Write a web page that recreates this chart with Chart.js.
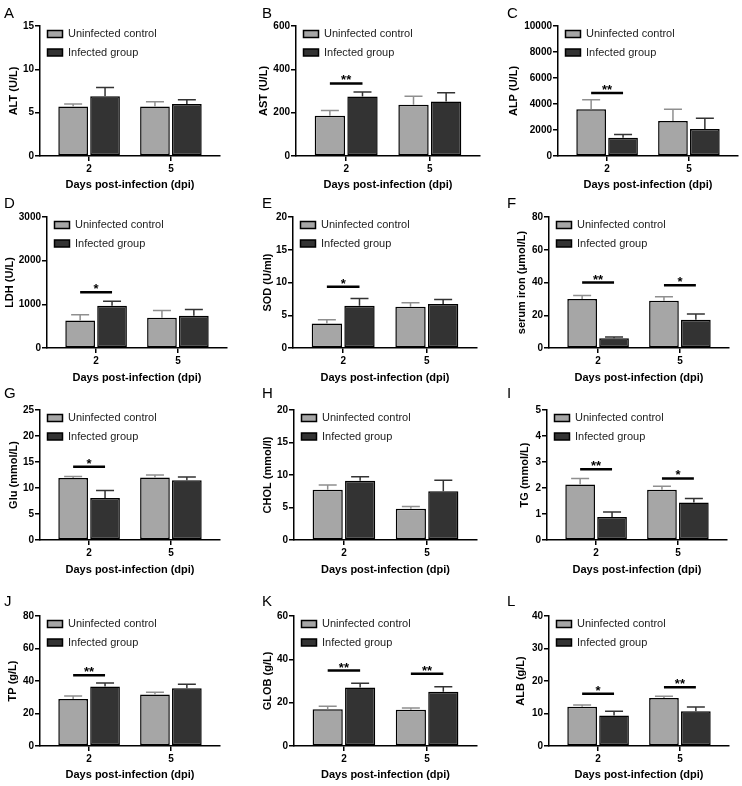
<!DOCTYPE html>
<html>
<head>
<meta charset="utf-8">
<script src="https://cdn.jsdelivr.net/npm/chart.js@4.4.1/dist/chart.umd.min.js"></script>
<style>
  html, body { margin: 0; padding: 0; background: #fff; }
  #fig { position: relative; width: 742px; height: 786px; overflow: hidden; font-family: "Liberation Sans", Arial, sans-serif; }
  .panel { position: absolute; }
  .tag { position: absolute; font-size: 15px; line-height: 15px; color: #000; }
</style>
</head>
<body>
<div id="fig"></div>
<script>
"use strict";

var days = ["2", "5"];
var groups = ["Uninfected control", "Infected group"];

// mean and SD per day [2, 5]
var altCtrl = [5.7, 5.7], altCtrlSd = [0.3, 0.55], altInf = [6.9, 6.0], altInfSd = [1.0, 0.5];
var astCtrl = [186, 236], astCtrlSd = [24, 40], astInf = [275, 252], astInfSd = [20, 40];
var alpCtrl = [3600, 2700], alpCtrlSd = [720, 900], alpInf = [1400, 2080], alpInfSd = [250, 820];
var ldhCtrl = [630, 690], ldhCtrlSd = [130, 170], ldhInf = [965, 737], ldhInfSd = [107, 146];
var sodCtrl = [3.75, 6.3], sodCtrlSd = [0.55, 0.6], sodInf = [6.45, 6.7], sodInfSd = [1.1, 0.7];
var ironCtrl = [29.9, 28.8], ironCtrlSd = [2.2, 2.5], ironInf = [5.9, 17.2], ironInfSd = [0.8, 3.5];
var gluCtrl = [11.9, 12.0], gluCtrlSd = [0.3, 0.5], gluInf = [8.1, 11.5], gluInfSd = [1.4, 0.6];
var cholCtrl = [7.75, 4.8], cholCtrlSd = [0.7, 0.35], cholInf = [9.1, 7.5], cholInfSd = [0.65, 1.7];
var tgCtrl = [2.13, 1.93], tgCtrlSd = [0.24, 0.14], tgInf = [0.88, 1.44], tgInfSd = [0.2, 0.16];
var tpCtrl = [29.0, 31.7], tpCtrlSd = [1.8, 1.4], tpInf = [36.6, 35.6], tpInfSd = [2.1, 2.4];
var globCtrl = [17.0, 16.7], globCtrlSd = [1.3, 0.8], globInf = [27.0, 25.0], globInfSd = [2.0, 2.3];
var albCtrl = [12.1, 14.8], albCtrlSd = [0.5, 0.5], albInf = [9.4, 10.7], albInfSd = [1.3, 1.3];

// significance marks per day and the level of their bracket
var astSig = ["**", ""], astSigAt = [335, 0];
var alpSig = ["**", ""], alpSigAt = [4850, 0];
var ldhSig = ["*", ""], ldhSigAt = [1275, 0];
var sodSig = ["*", ""], sodSigAt = [9.35, 0];
var ironSig = ["**", "*"], ironSigAt = [40, 38.3];
var gluSig = ["*", ""], gluSigAt = [14.1, 0];
var tgSig = ["**", "*"], tgSigAt = [2.72, 2.37];
var tpSig = ["**", ""], tpSigAt = [43.6, 0];
var globSig = ["**", "**"], globSigAt = [34.8, 33.3];
var albSig = ["*", "**"], albSigAt = [16.1, 18.1];
var noSig = ["", ""], noSigAt = [0, 0];

// grid of the figure
var colLeft = [0, 245, 490], colWidth = [245, 245, 252];
var rowTop = [4, 198, 390, 594], rowHeight = [192, 190, 190, 192];
var plotTop = [26, 217, 410, 616], plotZero = [156, 348, 540, 746], xTitleY = [185, 378, 570, 775];
var tagLeft = [4, 262, 507], tagTop = [7, 197, 387, 595];

var FONT = "'Liberation Sans', Arial, sans-serif";
var CTRL_COLOR = "#a6a6a6", INF_COLOR = "#333333";

var panels = [
  { tag: "A", col: 0, row: 0, left: 40, right: 220, yTitleX: 14, title: "ALT (U/L)", max: 15, step: 5,
    ctrl: altCtrl, ctrlSd: altCtrlSd, inf: altInf, infSd: altInfSd, sig: noSig, sigAt: noSigAt },
  { tag: "B", col: 1, row: 0, left: 296, right: 480, yTitleX: 264, title: "AST (U/L)", max: 600, step: 200,
    ctrl: astCtrl, ctrlSd: astCtrlSd, inf: astInf, infSd: astInfSd, sig: astSig, sigAt: astSigAt },
  { tag: "C", col: 2, row: 0, left: 558, right: 738, yTitleX: 514, title: "ALP (U/L)", max: 10000, step: 2000,
    ctrl: alpCtrl, ctrlSd: alpCtrlSd, inf: alpInf, infSd: alpInfSd, sig: alpSig, sigAt: alpSigAt },
  { tag: "D", col: 0, row: 1, left: 47, right: 227, yTitleX: 10, title: "LDH (U/L)", max: 3000, step: 1000,
    ctrl: ldhCtrl, ctrlSd: ldhCtrlSd, inf: ldhInf, infSd: ldhInfSd, sig: ldhSig, sigAt: ldhSigAt },
  { tag: "E", col: 1, row: 1, left: 293, right: 477, yTitleX: 268, title: "SOD (U/ml)", max: 20, step: 5,
    ctrl: sodCtrl, ctrlSd: sodCtrlSd, inf: sodInf, infSd: sodInfSd, sig: sodSig, sigAt: sodSigAt },
  { tag: "F", col: 2, row: 1, left: 549, right: 729, yTitleX: 522, title: "serum iron (\u03bcmol/L)", max: 80, step: 20,
    ctrl: ironCtrl, ctrlSd: ironCtrlSd, inf: ironInf, infSd: ironInfSd, sig: ironSig, sigAt: ironSigAt },
  { tag: "G", col: 0, row: 2, left: 40, right: 220, yTitleX: 14, title: "Glu (mmol/L)", max: 25, step: 5,
    ctrl: gluCtrl, ctrlSd: gluCtrlSd, inf: gluInf, infSd: gluInfSd, sig: gluSig, sigAt: gluSigAt },
  { tag: "H", col: 1, row: 2, left: 294, right: 477, yTitleX: 268, title: "CHOL (mmol/l)", max: 20, step: 5,
    ctrl: cholCtrl, ctrlSd: cholCtrlSd, inf: cholInf, infSd: cholInfSd, sig: noSig, sigAt: noSigAt },
  { tag: "I", col: 2, row: 2, left: 547, right: 727, yTitleX: 525, title: "TG (mmol/L)", max: 5, step: 1,
    ctrl: tgCtrl, ctrlSd: tgCtrlSd, inf: tgInf, infSd: tgInfSd, sig: tgSig, sigAt: tgSigAt },
  { tag: "J", col: 0, row: 3, left: 40, right: 220, yTitleX: 13, title: "TP (g/L)", max: 80, step: 20,
    ctrl: tpCtrl, ctrlSd: tpCtrlSd, inf: tpInf, infSd: tpInfSd, sig: tpSig, sigAt: tpSigAt },
  { tag: "K", col: 1, row: 3, left: 294, right: 477, yTitleX: 268, title: "GLOB (g/L)", max: 60, step: 20,
    ctrl: globCtrl, ctrlSd: globCtrlSd, inf: globInf, infSd: globInfSd, sig: globSig, sigAt: globSigAt },
  { tag: "L", col: 2, row: 3, left: 549, right: 729, yTitleX: 521, title: "ALB (g/L)", max: 40, step: 10,
    ctrl: albCtrl, ctrlSd: albCtrlSd, inf: albInf, infSd: albInfSd, sig: albSig, sigAt: albSigAt }
];

function toPoints(values) {
  return values.map(function(v, i) {
    return { x: i, y: v };
  });
}

// error bars (mean + SD, upward only) and significance brackets
function marksPlugin(p) {
  return {
    id: "marks",
    afterDatasetsDraw: function(chart) {
      var ctx = chart.ctx;
      var yScale = chart.scales.y;
      ctx.save();
      chart.data.datasets.forEach(function(ds, i) {
        var meta = chart.getDatasetMeta(i);
        meta.data.forEach(function(bar, j) {
          var top = yScale.getPixelForValue(ds.data[j].y + ds.sd[j]);
          ctx.strokeStyle = ds.errColor;
          ctx.lineWidth = 1.5;
          ctx.beginPath();
          ctx.moveTo(bar.x, bar.y);
          ctx.lineTo(bar.x, top);
          ctx.moveTo(bar.x - 9, top);
          ctx.lineTo(bar.x + 9, top);
          ctx.stroke();
        });
      });
      var ctrlMeta = chart.getDatasetMeta(0);
      var infMeta = chart.getDatasetMeta(1);
      p.sig.forEach(function(mark, j) {
        if (!mark) {
          return;
        }
        var y = yScale.getPixelForValue(p.sigAt[j]);
        var x1 = ctrlMeta.data[j].x, x2 = infMeta.data[j].x;
        ctx.strokeStyle = "#000";
        ctx.lineWidth = 2.5;
        ctx.beginPath();
        ctx.moveTo(x1, y);
        ctx.lineTo(x2, y);
        ctx.stroke();
        ctx.fillStyle = "#000";
        ctx.font = "bold 13px " + FONT;
        ctx.textAlign = "center";
        ctx.textBaseline = "alphabetic";
        ctx.fillText(mark, (x1 + x2) / 2, y + 1);
      });
      ctx.restore();
    }
  };
}

// legend sits inside the plot, a little above its top edge
var legendNudge = {
  id: "legendNudge",
  afterLayout: function(chart) {
    if (chart.legend) {
      chart.legend.top = chart.chartArea.top - 5;
    }
  }
};

function drawPanel(p) {
  var fig = document.getElementById("fig");
  var left = colLeft[p.col], top = rowTop[p.row];
  var w = colWidth[p.col], h = rowHeight[p.row];

  var wrap = document.createElement("div");
  wrap.className = "panel";
  wrap.style.left = left + "px";
  wrap.style.top = top + "px";
  wrap.style.width = w + "px";
  wrap.style.height = h + "px";
  var canvas = document.createElement("canvas");
  canvas.width = w;
  canvas.height = h;
  canvas.style.width = w + "px";
  canvas.style.height = h + "px";
  wrap.appendChild(canvas);
  fig.appendChild(wrap);

  var tag = document.createElement("div");
  tag.className = "tag";
  tag.textContent = p.tag;
  tag.style.left = tagLeft[p.col] + "px";
  tag.style.top = (tagTop[p.row] - 2) + "px";
  fig.appendChild(tag);

  var titleLine = 11 * 1.2;
  var yWidth = p.left - left;
  var xHeight = top + h - plotZero[p.row];
  var xTitlePad = top + h - xTitleY[p.row] - titleLine / 2;
  var yTitlePad = p.yTitleX - left - titleLine / 2;

  var axisGrid = {
    display: true,
    drawOnChartArea: false,
    drawTicks: true,
    tickLength: 5,
    color: "#000",
    lineWidth: 1.5,
    offset: false
  };
  var axisBorder = { display: true, color: "#000", width: 1.5 };
  var tickFont = { family: FONT, size: 10, weight: "bold" };
  var titleFont = { family: FONT, size: 11, weight: "bold" };

  new Chart(canvas, {
    type: "bar",
    data: {
      datasets: [
        {
          label: groups[0],
          data: toPoints(p.ctrl),
          sd: p.ctrlSd,
          errColor: "#8f8f8f",
          backgroundColor: CTRL_COLOR,
          borderColor: "#000",
          borderWidth: 1.5,
          borderSkipped: false,
          categoryPercentage: 0.78,
          barPercentage: 0.93
        },
        {
          label: groups[1],
          data: toPoints(p.inf),
          sd: p.infSd,
          errColor: "#333333",
          backgroundColor: INF_COLOR,
          borderColor: "#000",
          borderWidth: 1.5,
          borderSkipped: false,
          categoryPercentage: 0.78,
          barPercentage: 0.93
        }
      ]
    },
    options: {
      responsive: false,
      animation: false,
      devicePixelRatio: 1,
      layout: {
        padding: { left: 0, top: plotTop[p.row] - top, right: left + w - p.right, bottom: 0 }
      },
      plugins: {
        tooltip: { enabled: false },
        legend: {
          position: "chartArea",
          align: "start",
          labels: {
            boxWidth: 15,
            boxHeight: 7,
            padding: 7.5,
            color: "#222",
            font: { family: FONT, size: 11 }
          }
        }
      },
      scales: {
        x: {
          type: "linear",
          min: -0.6,
          max: 1.6,
          offset: false,
          afterBuildTicks: function(scale) {
            scale.ticks = days.map(function(d, i) {
              return { value: i };
            });
          },
          afterFit: function(scale) {
            scale.height = xHeight;
          },
          grid: axisGrid,
          border: axisBorder,
          ticks: {
            padding: 2,
            color: "#000",
            font: tickFont,
            maxRotation: 0,
            autoSkip: false,
            callback: function(v) {
              return days[v];
            }
          },
          title: {
            display: true,
            text: "Days post-infection (dpi)",
            color: "#000",
            font: titleFont,
            padding: { top: 0, bottom: xTitlePad }
          }
        },
        y: {
          min: 0,
          max: p.max,
          afterFit: function(scale) {
            scale.width = yWidth;
          },
          grid: axisGrid,
          border: axisBorder,
          ticks: {
            stepSize: p.step,
            padding: 1,
            color: "#000",
            font: tickFont,
            callback: function(v) {
              return String(v);
            }
          },
          title: {
            display: true,
            text: p.title,
            color: "#000",
            font: titleFont,
            padding: { top: yTitlePad, bottom: 0 }
          }
        }
      }
    },
    plugins: [marksPlugin(p), legendNudge]
  });
}

panels.forEach(drawPanel);
</script>
</body>
</html>
